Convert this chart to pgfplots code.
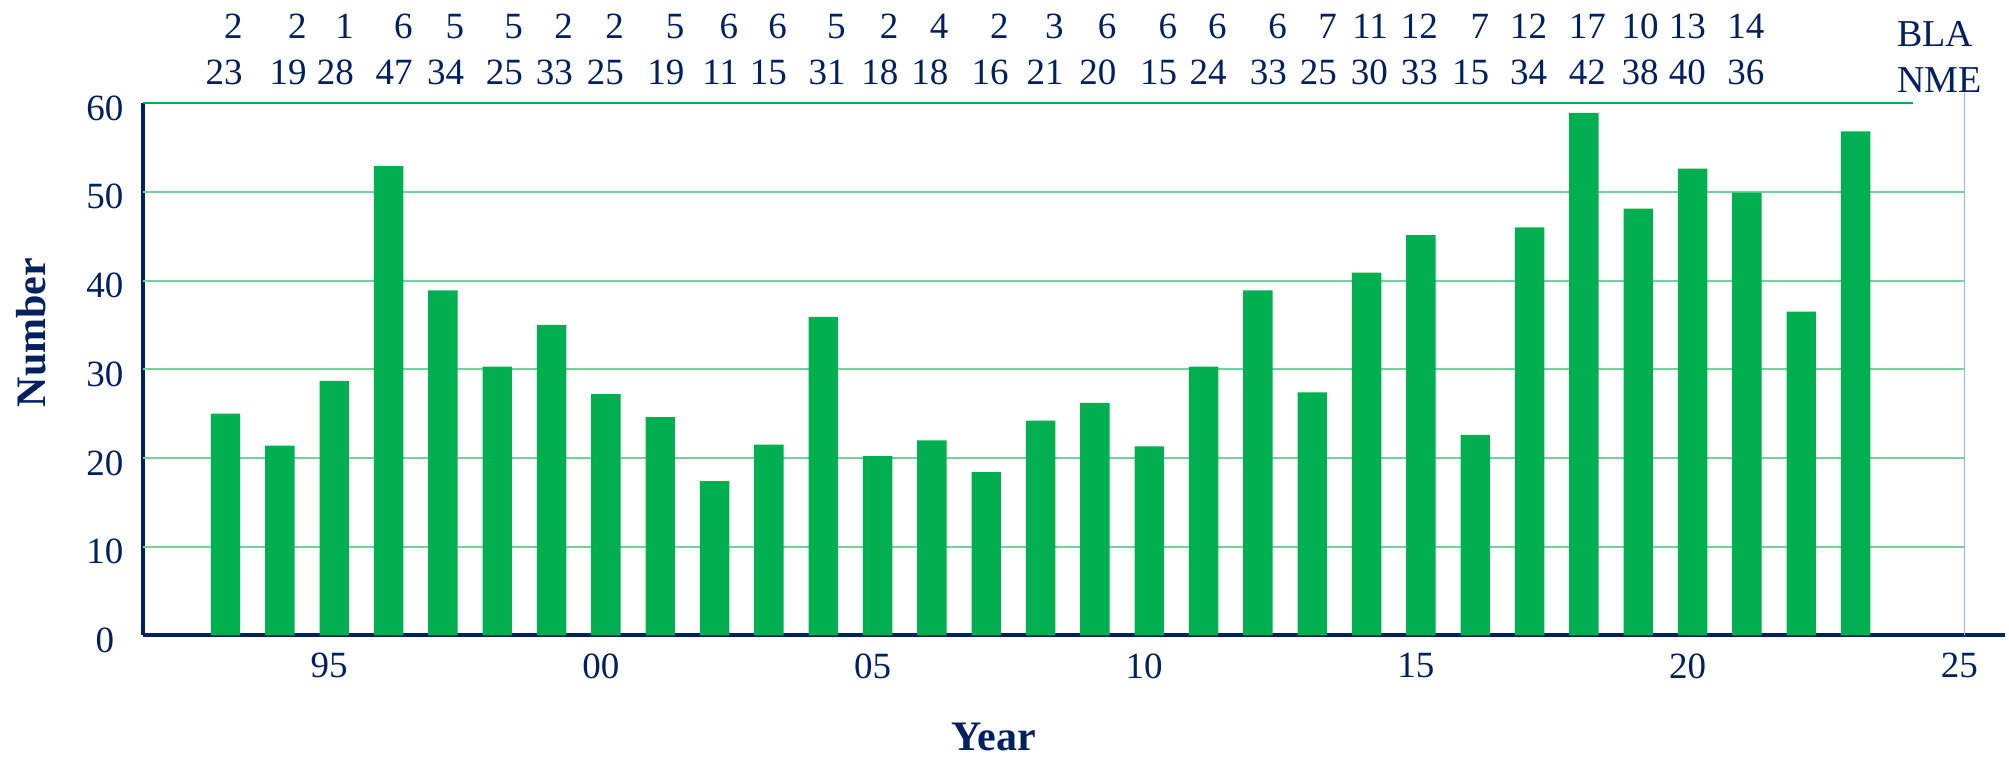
\documentclass[border=0pt]{standalone}
\usepackage{pgfplots}
\pgfplotsset{compat=1.18}
\usepackage{pgfplotstable}
\usepackage{fontspec}
\setmainfont{Liberation Serif}

\definecolor{navy}{HTML}{002060}
\definecolor{bargreen}{HTML}{00B050}
\definecolor{gridgreen}{HTML}{74D19C}
\definecolor{edgeblue}{HTML}{8DB4E2}

% yearly totals
\pgfplotstableread{
year total
1993 25.0
1994 21.4
1995 28.7
1996 52.9
1997 38.9
1998 30.3
1999 35.0
2000 27.2
2001 24.6
2002 17.4
2003 21.5
2004 35.9
2005 20.2
2006 22.0
2007 18.4
2008 24.2
2009 26.2
2010 21.3
2011 30.3
2012 38.9
2013 27.4
2014 40.9
2015 45.1
2016 22.6
2017 46.0
2018 58.9
2019 48.1
2020 52.6
2021 49.9
2022 36.5
2023 56.8
}\totals

% BLA / NME counts printed above the plot
\pgfplotstableread{
x bla nme
1992.98 2 23
1994.16 2 19
1995.03 1 28
1996.11 6 47
1997.06 5 34
1998.14 5 25
1999.06 2 33
2000.00 2 25
2001.11 5 19
2002.10 6 11
2003.00 6 15
2004.08 5 31
2005.05 2 18
2005.97 4 18
2007.08 2 16
2008.09 3 21
2009.06 6 20
2010.18 6 15
2011.09 6 24
2012.20 6 33
2013.12 7 25
2014.06 11 30
2014.98 12 33
2015.92 7 15
2016.99 12 34
2018.07 17 42
2019.04 10 38
2019.91 13 40
2020.99 14 36
}\counts

\begin{document}
\begin{tikzpicture}
\useasboundingbox (0,0) rectangle (1004.5pt,380pt);
\begin{axis}[
  at={(71.75pt,62.25pt)}, anchor=south west,
  scale only axis, width=930.75pt, height=266.25pt,
  xmin=1991.49, xmax=2025.75, ymin=0, ymax=60,
  clip=false,
  axis lines=left,
  axis line style={navy, line width=2pt, -},
  major tick length=0pt,
  /pgf/number format/assume math mode=true,
  xtick={1995,2000,2005,2010,2015,2020,2025},
  xticklabels={95,00,05,10,15,20,25},
  ytick={0,10,...,60},
  tick label style={text=navy, font=\fontsize{18.5}{22}\selectfont},
  yticklabel style={anchor=center, inner sep=0pt, xshift=-19.25pt, yshift=-2.5pt},
  xticklabel style={anchor=north, inner sep=0pt, xshift=-2.5pt, yshift=-8.75pt},
  xlabel={Year},
  ylabel={Number},
  xlabel style={at={(axis description cs:0.4567,-0.2169)}, anchor=base,
    text=navy, font=\fontsize{21}{24}\selectfont\bfseries},
  ylabel style={at={(axis description cs:-0.0604,0.569)}, anchor=center,
    text=navy, font=\fontsize{21}{24}\selectfont\bfseries},
]
% horizontal guide lines
\pgfplotsinvokeforeach{10,20,30,40,50}{
  \draw[gridgreen, line width=1pt] (axis cs:1991.49,#1) -- (axis cs:2025,#1);
}
\draw[bargreen, line width=0.75pt] (axis cs:1991.49,60) -- (axis cs:2024.06,60);
\draw[edgeblue, line width=0.6pt] (axis cs:2025,0) -- (axis cs:2025,61.1);

% bars
\addplot[ybar, bar width=14.7pt, bar shift=0pt, fill=bargreen, draw=none]
  table[x=year, y=total] {\totals};

% count rows above the plot
\addplot[draw=none, mark=none, nodes near coords, point meta=explicit symbolic,
  every node near coord/.style={anchor=base east, inner sep=0pt, xshift=9.25pt,
    text=navy, font=\fontsize{18.5}{22}\selectfont}]
  table[x=x, y expr=67.32, meta=bla] {\counts};
\addplot[draw=none, mark=none, nodes near coords, point meta=explicit symbolic,
  every node near coord/.style={anchor=base east, inner sep=0pt, xshift=9.25pt,
    text=navy, font=\fontsize{18.5}{22}\selectfont}]
  table[x=x, y expr=62.03, meta=nme] {\counts};

\node[anchor=base west, inner sep=0pt, text=navy, font=\fontsize{19}{22}\selectfont]
  at (axis cs:2023.76,66.42) {BLA};
\node[anchor=base west, inner sep=0pt, text=navy, font=\fontsize{19}{22}\selectfont]
  at (axis cs:2023.76,61.13) {NME};
\end{axis}
\end{tikzpicture}
\end{document}
